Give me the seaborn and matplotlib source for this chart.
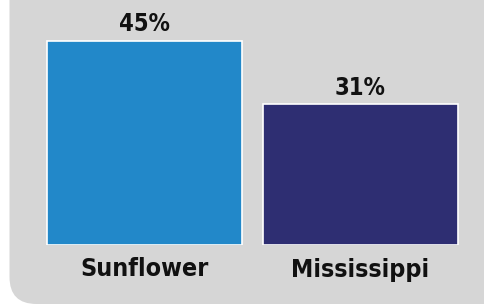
import matplotlib
matplotlib.use("Agg")
import matplotlib.pyplot as plt
from matplotlib import font_manager
from matplotlib.path import Path
from matplotlib.patches import PathPatch
import seaborn as sns
import pandas as pd

categories = ["Sunflower", "Mississippi"]
values = [45, 31]
bar_colors = ["#2288c9", "#2e2e72"]

names = {f.name for f in font_manager.fontManager.ttflist}
font = "Liberation Sans Narrow" if "Liberation Sans Narrow" in names else "DejaVu Sans"

sns.set_style("white")
plt.rcParams["font.family"] = [font, "DejaVu Sans"]
plt.rcParams["font.stretch"] = "condensed"

df = pd.DataFrame({"Area": categories, "Pct": values})

fig = plt.figure(figsize=(4.84, 3.05), dpi=100)
fig.patch.set_facecolor("white")

# gray panel, only the bottom-left corner is visible as rounded
x0, y0, r = 0.095, 0.01, 0.27
verts = [(x0, 4.0), (x0, y0 + r), (x0, y0), (x0 + r, y0),
         (6.0, y0), (6.0, 4.0), (x0, 4.0)]
codes = [Path.MOVETO, Path.LINETO, Path.CURVE3, Path.CURVE3,
         Path.LINETO, Path.LINETO, Path.CLOSEPOLY]
panel = PathPatch(Path(verts, codes), transform=fig.dpi_scale_trans,
                  facecolor="#d6d6d6", edgecolor="none", zorder=-1)
fig.patches.append(panel)

# axes placed so that bars land where they are in the reference
ax = fig.add_axes([36.5 / 484, 60 / 305, 432 / 484, 226.7 / 305])
ax.set_zorder(1)
ax.set_facecolor("none")
sns.barplot(data=df, x="Area", y="Pct", hue="Area", palette=bar_colors,
            saturation=1, width=0.903, edgecolor="white", linewidth=1.2,
            legend=False, ax=ax)
ax.set_xlim(-0.5, 1.5)
ax.set_ylim(0, 50)

for i, v in enumerate(values):
    ax.text(i, v + 1.0, f"{v}%", ha="center", va="bottom",
            fontsize=17, fontweight="bold", fontstretch="condensed",
            color="#111111")

ax.set_xticks(range(len(categories)))
ax.set_xticklabels(categories, fontsize=18, fontweight="bold",
                   fontstretch="condensed", color="#111111")
ax.tick_params(axis="x", length=0, pad=9)
ax.set_yticks([])
ax.set_xlabel("")
ax.set_ylabel("")
for s in ax.spines.values():
    s.set_visible(False)

fig.savefig("out.png", dpi=100)
